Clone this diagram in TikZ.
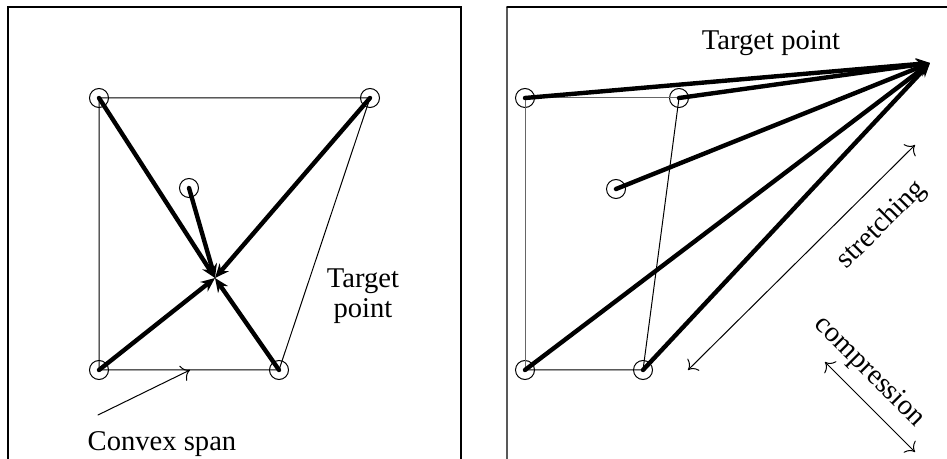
\documentclass[tikz,border=0pt]{standalone}
\usepackage{fontspec}
\setmainfont{Liberation Serif}
\usetikzlibrary{arrows.meta}

\begin{document}
\begin{tikzpicture}[x=0.5pt,y=-0.5pt,line cap=round,
  pt/.style={draw,circle,minimum size=9.5pt,inner sep=0pt,line width=0.5pt},
  hull/.style={line width=0.5pt},
  pull/.style={line width=2.2pt,-{Stealth[length=7pt,width=6pt]}},
  lbl/.style={font=\fontsize{14.3}{14.8}\selectfont}]
  \useasboundingbox (0,0) rectangle (947,459);
  % frames
  \draw[line width=0.6pt] (8,459) -- (8,7) -- (461,7) -- (461,459);
  \draw[line width=0.6pt,black!65] (507,459) -- (507,7);
  \draw[line width=0.6pt] (507,7) -- (947,7);
  % left: target inside the convex span
  \foreach \n/\x/\y in {atl/99/98, atr/370/98, amid/189/188, abl/99/370, abr/279/370}
    \node[pt] (\n) at (\x,\y) {};
  \coordinate (at) at (215,278);
  \draw[hull] (atl.center) -- (atr.center) -- (abr.center) -- (abl.center) -- cycle;
  \foreach \n in {atl,atr,amid,abl,abr} \draw[pull] (\n.center) -- (at);
  \node[lbl,align=center] (alab) at (363,296) {Target\\point};
  \node[lbl,anchor=base] (span) at (162,450) {Convex span};
  \coordinate (sa) at (98,415); \coordinate (sb) at (190,370);
  \draw[hull,-{To[length=4pt]}] (sa) -- (sb);
  % right: target outside the span
  \foreach \n/\x/\y in {btl/525/98, btr/679/98, bmid/616/189, bbl/525/370, bbr/643/370}
    \node[pt] (\n) at (\x,\y) {};
  \coordinate (bt) at (930,63);
  \draw[hull,black!60] (bbl.center) -- (btl.center) -- (btr.center);
  \draw[hull] (btr.center) -- (bbr.center) -- (bbl.center);
  \foreach \n in {btl,btr,bmid,bbl,bbr} \draw[pull] (\n.center) -- (bt);
  \node[lbl,anchor=base] (blab) at (771,50) {Target point};
  \coordinate (st1) at (915,145); \coordinate (st2) at (688,370);
  \draw[hull,{To[length=4pt]}-{To[length=4pt]}] (st1) -- (st2);
  \node[lbl,rotate=45] (str) at (882,225) {stretching};
  \coordinate (co1) at (825,362); \coordinate (co2) at (915,452);
  \draw[hull,{To[length=4pt]}-{To[length=4pt]}] (co1) -- (co2);
  \node[lbl,rotate=-45] (com) at (869,372) {compression};
\end{tikzpicture}
\end{document}
